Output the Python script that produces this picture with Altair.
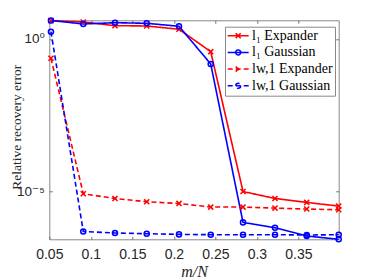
import altair as alt
import pandas as pd

# m/N values
x_vals = [0.052, 0.0909, 0.1291, 0.1673, 0.2062, 0.2444, 0.2833, 0.3218, 0.3600, 0.3985]

series_names = ["l₁ Expander", "l₁ Gaussian", "lw,1 Expander", "lw,1 Gaussian"]
l1_expander = [4.0, 3.61, 2.73, 2.67, 2.08, 0.383, 9.8e-6, 5.8e-6, 4.3e-6, 3.27e-6]
l1_gaussian = [4.05, 3.10, 3.42, 3.27, 2.61, 0.151, 9.5e-7, 6.35e-7, 3.4e-7, 2.65e-7]
lw1_expander = [0.233, 8.3e-6, 5.8e-6, 4.53e-6, 3.98e-6, 3.03e-6, 3.03e-6, 2.81e-6, 2.61e-6, 2.47e-6]
lw1_gaussian = [1.73, 4.8e-7, 4.27e-7, 4.05e-7, 3.84e-7, 3.75e-7, 3.75e-7, 3.75e-7, 3.66e-7, 3.75e-7]

x_ticks = [0.05, 0.1, 0.15, 0.2, 0.25, 0.3, 0.35]
y_ticks = [1e-5, 1.0]

rows = []
for name, vals in zip(series_names, [l1_expander, l1_gaussian, lw1_expander, lw1_gaussian]):
    for i, (xv, yv) in enumerate(zip(x_vals, vals)):
        rows.append({"series": name, "x": xv, "y": yv, "idx": i})
df = pd.DataFrame(rows)

colors = ["#ff0000", "#0000ff", "#ff0000", "#0000ff"]
dashes = [[1, 0], [1, 0], [5, 3], [5, 3]]
xmark = "M-1,-1L1,1M-1,1L1,-1"
shapes_plot = [xmark, "circle", xmark, "circle"]
lx = "M-1.75,0H1.75M-0.42,-0.42L0.42,0.42M-0.42,0.42L0.42,-0.42"
lo = "M-1.75,0H1.75M0.42,0A0.42,0.42,0,1,1,-0.42,0A0.42,0.42,0,1,1,0.42,0"
shapes_legend = [lx, lo, lx, lo]

xscale = alt.Scale(domain=[0.05, 0.3985], nice=False, zero=False)
yscale = alt.Scale(type="log", domain=[2.65e-7, 4.1], nice=False)

SANS = "Liberation Sans, DejaVu Sans"
SERIF = "Liberation Serif, DejaVu Serif"

x_bottom = alt.Axis(orient="bottom", values=x_ticks, format=".2~f", offset=-3, tickSize=3,
                    domain=False, grid=False, labelPadding=8, labelFont=SANS, labelFontSize=14,
                    labelColor="#262626", labelFlush=False, labelOverlap=False,
                    tickColor="#555", tickWidth=0.8,
                    title="m/N", titleFont=SERIF, titleFontStyle="italic", titleFontWeight="normal",
                    titleFontSize=16, titleColor="#262626", titleY=40.5, titleBaseline="alphabetic")
y_left = alt.Axis(orient="left", values=y_ticks,
                  labelExpr="datum.value >= 0.5 ? '10⁰' : '10⁻⁵'",
                  offset=-3, tickSize=3, domain=False, grid=False, labelPadding=5,
                  labelFont=SANS, labelFontSize=13.5, labelColor="#262626",
                  labelFlush=False, labelOverlap=False, tickColor="#555", tickWidth=0.8,
                  title="Relative recovery error", titleFont=SERIF, titleFontWeight="normal",
                  titleFontSize=13.5, titleColor="#262626", titleX=-31.3, titleY=106.4,
                  titleAngle=-90, titleBaseline="alphabetic", titleAlign="center")
x_top = alt.Axis(orient="top", values=x_ticks, offset=-3, tickSize=3, domain=False, grid=False,
                 labels=False, title=None, tickColor="#555", tickWidth=0.8)
y_right = alt.Axis(orient="right", values=y_ticks, offset=-3, tickSize=3, domain=False, grid=False,
                   labels=False, title=None, tickColor="#555", tickWidth=0.8)

base = alt.Chart(df)

lines = base.mark_line(strokeWidth=1.6).encode(
    x=alt.X("x:Q", scale=xscale, axis=x_bottom),
    y=alt.Y("y:Q", scale=yscale, axis=y_left),
    color=alt.Color("series:N", scale=alt.Scale(domain=series_names, range=colors), legend=None),
    strokeDash=alt.StrokeDash("series:N", scale=alt.Scale(domain=series_names, range=dashes), legend=None),
    detail="series:N",
    order="idx:Q",
)

points = base.mark_point(filled=False, strokeWidth=1.5, size=26, opacity=1).encode(
    x=alt.X("x:Q", scale=xscale, axis=x_top),
    y=alt.Y("y:Q", scale=yscale, axis=y_right),
    color=alt.Color("series:N", scale=alt.Scale(domain=series_names, range=colors), legend=None),
    shape=alt.Shape("series:N", scale=alt.Scale(domain=series_names, range=shapes_plot), legend=None),
)

legend_layer = base.transform_filter("false").mark_point(filled=False, strokeWidth=1.5, size=144, opacity=1).encode(
    x=alt.X("x:Q", scale=xscale, axis=None),
    y=alt.Y("y:Q", scale=yscale, axis=None),
    color=alt.Color("series:N", scale=alt.Scale(domain=series_names, range=colors),
                    legend=alt.Legend(orient="none", legendX=175.7, legendY=6.4, title=None,
                                      fillColor="white", strokeColor="#888", padding=2,
                                      rowPadding=2.7, labelFont=SERIF, labelFontSize=14,
                                      labelColor="#000", symbolOffset=4.2, labelOffset=6.8,
                                      symbolStrokeWidth=1.5, symbolSize=144, labelLimit=200)),
    shape=alt.Shape("series:N", scale=alt.Scale(domain=series_names, range=shapes_legend)),
    strokeDash=alt.StrokeDash("series:N", scale=alt.Scale(domain=series_names, range=dashes)),
)

chart = alt.layer(lines, points, legend_layer).resolve_scale(
    color="independent", shape="independent", strokeDash="independent"
).resolve_axis(x="independent", y="independent").resolve_legend(
    color="independent", shape="independent", strokeDash="independent"
).properties(
    width=289.4, height=219,
    autosize=alt.AutoSizeParams(type="none"),
    padding={"left": 41.3, "top": 12.3, "right": 25, "bottom": 40},
).configure_view(stroke="#888", strokeWidth=1)

chart.save("out.html", embed_options={"renderer": "svg", "actions": False})
